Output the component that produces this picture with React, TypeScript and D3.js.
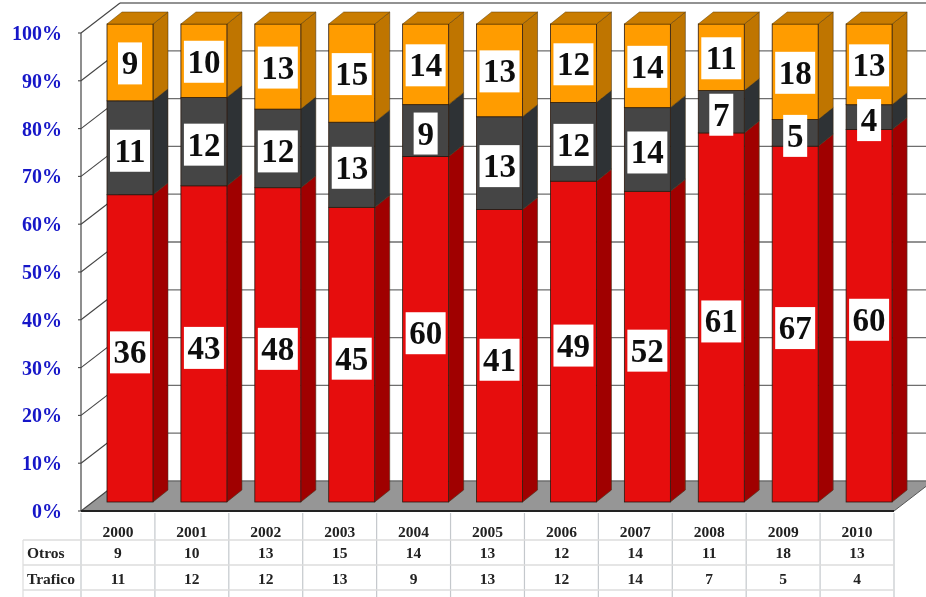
import React from 'react';
import * as d3 from 'd3';

const years = ['2000', '2001', '2002', '2003', '2004', '2005', '2006', '2007', '2008', '2009', '2010'];
const delitos = [36, 43, 48, 45, 60, 41, 49, 52, 61, 67, 60];
const trafico = [11, 12, 12, 13, 9, 13, 12, 14, 7, 5, 4];
const otros = [9, 10, 13, 15, 14, 13, 12, 14, 11, 18, 13];
const yTicks = [0, 0.1, 0.2, 0.3, 0.4, 0.5, 0.6, 0.7, 0.8, 0.9, 1];

const serif = '"Liberation Serif", "Times New Roman", serif';

// 3d offsets of the box
const wallDx = 39;
const wallDy = -30;
const barDx = 15;
const barDy = -12;
const barW = 46;

const axisY = d3.scaleLinear().domain([0, 1]).range([511, 33]);
const barY = d3.scaleLinear().domain([0, 1]).range([502, 24]);
const colX = d3.scaleLinear().domain([0, 11]).range([81, 894]);

const rows = years.map((y, i) => ({ year: y, delitos: delitos[i], trafico: trafico[i], otros: otros[i] }));
const stack = d3.stack<any>().keys(['delitos', 'trafico', 'otros']).offset(d3.stackOffsetExpand);
const layers = stack(rows);

const colors: any = {
  delitos: { front: '#e60b0b', side: '#a00606', top: '#c00808', labelShift: 4 },
  trafico: { front: '#454545', side: '#2e3234', top: '#333', labelShift: 3 },
  otros: { front: '#ff9c00', side: '#bf7500', top: '#c97c00', labelShift: 1 },
};

const pts = (p: number[][]) => p.map(d => d.join(',')).join(' ');

export default function App() {
  const floorL = colX(0);
  const floorR = colX(11);
  const tableRows = [{ name: 'Otros', vals: otros }, { name: 'Trafico', vals: trafico }];
  const rowLines = [540, 565, 590];

  return (
    <svg width={926} height={597} style={{ position: 'absolute', left: 0, top: 0, background: '#fff' }}>
      <defs>
        <filter id="soft" x="0" y="0" width="100%" height="100%">
          <feGaussianBlur stdDeviation="0.45" />
        </filter>
      </defs>
      <g filter="url(#soft)">
        <rect width={926} height={597} fill="#fff" />
        {/* walls */}
        <polygon
          points={pts([[floorL, axisY(0)], [floorL + wallDx, axisY(0) + wallDy], [floorR + wallDx, axisY(0) + wallDy], [floorR, axisY(0)]])}
          fill="#969696"
        />
        {yTicks.map(t => (
          <g key={t}>
            <line x1={floorL + wallDx} x2={926} y1={axisY(t) + wallDy} y2={axisY(t) + wallDy} stroke="#6e6e6e" strokeWidth={1.3} />
            <line x1={floorL} x2={floorL + wallDx} y1={axisY(t)} y2={axisY(t) + wallDy} stroke="#444" strokeWidth={1.1} />
            <line x1={floorL - 3} x2={floorL} y1={axisY(t)} y2={axisY(t)} stroke="#444" strokeWidth={1.1} />
            <text x={62} y={axisY(t) + 7} textAnchor="end" fontFamily={serif} fontWeight="bold" fontSize={20} fill="#1616c8">
              {d3.format('.0%')(t)}
            </text>
          </g>
        ))}
        <line x1={floorL} x2={floorL} y1={axisY(0)} y2={axisY(1)} stroke="#444" strokeWidth={1.2} />
        <line x1={floorL} x2={floorR} y1={axisY(0)} y2={axisY(0)} stroke="#222" strokeWidth={2} />
        <line x1={floorR} x2={floorR + wallDx} y1={axisY(0)} y2={axisY(0) + wallDy} stroke="#555" strokeWidth={1} />

        {/* bars */}
        {years.map((year, i) => {
          const x0 = colX(i) + 26;
          const x1 = x0 + barW;
          return (
            <g key={year}>
              {layers.map(layer => {
                const c = colors[layer.key];
                const yb = barY(layer[i][0]);
                const yt = barY(layer[i][1]);
                return (
                  <g key={layer.key}>
                    <polygon
                      points={pts([[x1, yb], [x1 + barDx, yb + barDy], [x1 + barDx, yt + barDy], [x1, yt]])}
                      fill={c.side}
                      stroke="#3a2a10"
                      strokeWidth={0.5}
                    />
                    <rect x={x0} y={yt} width={barW} height={yb - yt} fill={c.front} stroke="#2a1a10" strokeWidth={0.8} />
                    {layer.key === 'otros' && (
                      <polygon
                        points={pts([[x0, yt], [x0 + barDx, yt + barDy], [x1 + barDx, yt + barDy], [x1, yt]])}
                        fill={c.top}
                        stroke="#5a3a00"
                        strokeWidth={0.5}
                      />
                    )}
                  </g>
                );
              })}
              {layers.map(layer => {
                const v = (rows[i] as any)[layer.key];
                const cy = barY((layer[i][0] + layer[i][1]) / 2) + colors[layer.key].labelShift;
                const w = v < 10 ? 24 : 40;
                return (
                  <g key={layer.key}>
                    <rect x={x0 + barW / 2 - w / 2} y={cy - 21} width={w} height={42} fill="#fff" />
                    <text x={x0 + barW / 2} y={cy + 11} textAnchor="middle" fontFamily={serif} fontWeight="bold" fontSize={33} fill="#111">
                      {v}
                    </text>
                  </g>
                );
              })}
            </g>
          );
        })}

        {/* data table */}
        {d3.range(12).map(i => (
          <line key={i} x1={colX(i)} x2={colX(i)} y1={513} y2={597} stroke="#c4c8cc" strokeWidth={1.2} />
        ))}
        {rowLines.map(y => (
          <line key={y} x1={23} x2={colX(11)} y1={y} y2={y} stroke="#dcdcdc" strokeWidth={1.4} />
        ))}
        <line x1={23} x2={23} y1={540} y2={597} stroke="#dcdcdc" strokeWidth={1.2} />
        {years.map((year, i) => (
          <text key={year} x={colX(i + 0.5)} y={537} textAnchor="middle" fontFamily={serif} fontWeight="bold" fontSize={15.5} fill="#222">
            {year}
          </text>
        ))}
        {tableRows.map((r, ri) => (
          <g key={r.name}>
            <text x={27} y={[558, 584][ri]} fontFamily={serif} fontWeight="bold" fontSize={15.5} fill="#222">
              {r.name}
            </text>
            {r.vals.map((v, i) => (
              <text key={i} x={colX(i + 0.5)} y={[558, 584][ri]} textAnchor="middle" fontFamily={serif} fontWeight="bold" fontSize={15.5} fill="#222">
                {v}
              </text>
            ))}
          </g>
        ))}
      </g>
    </svg>
  );
}
